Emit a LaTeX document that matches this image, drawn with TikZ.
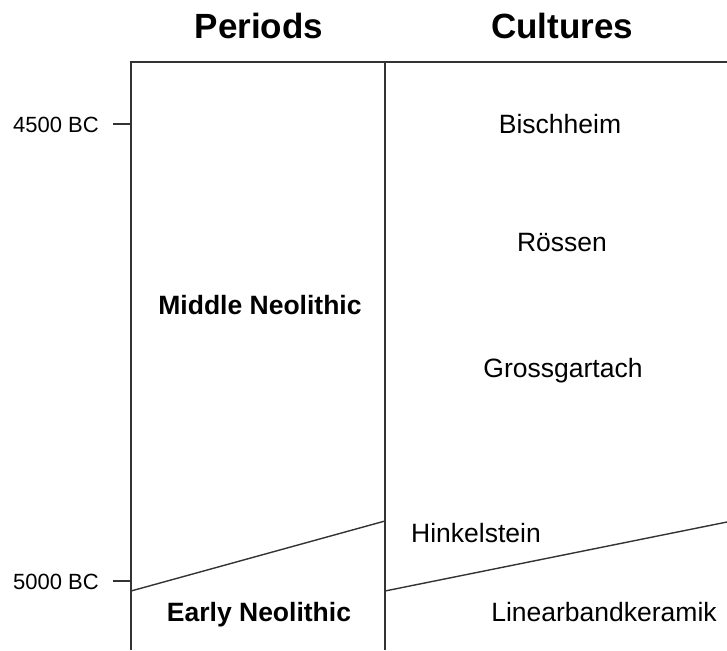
\documentclass[tikz,border=0pt]{standalone}
\usepackage{fontspec}
\setmainfont{Liberation Sans}
\definecolor{linegray}{HTML}{333333}
\begin{document}
\begin{tikzpicture}[x=1pt,y=-1pt,
  rule/.style={draw=linegray,line width=1.4pt},
  title/.style={inner sep=0pt,anchor=base,font=\fontsize{35}{40}\selectfont\bfseries},
  period/.style={inner sep=0pt,anchor=base,font=\fontsize{26.5}{30}\selectfont\bfseries},
  culture/.style={inner sep=0pt,anchor=base,font=\fontsize{26.5}{30}\selectfont},
  year/.style={inner sep=0pt,anchor=base west,font=\fontsize{22}{26}\selectfont}]
\useasboundingbox (0,0) rectangle (727,650);
% frame coordinates
\coordinate (tl) at (131,62);
\coordinate (tm) at (385,62);
\coordinate (tr) at (727,62);
\coordinate (bl) at (131,650);
\coordinate (bm) at (385,650);
\coordinate (t45a) at (113,124);
\coordinate (t45b) at (131,124);
\coordinate (t50a) at (113,581);
\coordinate (t50b) at (131,581);
\coordinate (dl1) at (131,591);
\coordinate (dl2) at (385,521);
\coordinate (dr1) at (385,591);
\coordinate (dr2) at (727,522);
% lines
\draw[rule] (bl) -- (tl) -- (tr);
\draw[rule] (tm) -- (bm);
\draw[rule] (t45a) -- (t45b);
\draw[rule] (t50a) -- (t50b);
\draw[rule] (dl1) -- (dl2);
\draw[rule] (dr1) -- (dr2);
% titles
\node[title] (periods) at (259,39) {Periods};
\node[title] (cultures) at (562,39) {Cultures};
% years
\node[year] (y4500) at (13,132) {4500 BC};
\node[year] (y5000) at (13,589) {5000 BC};
% periods
\node[period] (mid) at (260,314) {Middle Neolithic};
\node[period] (early) at (259,621) {Early Neolithic};
% cultures
\node[culture] (bisch) at (560,133) {Bischheim};
\node[culture] (roessen) at (562,251) {Rössen};
\node[culture] (gross) at (563,377) {Grossgartach};
\node[culture,anchor=base west] (hinkel) at (411,542) {Hinkelstein};
\node[culture] (lbk) at (604,621) {Linearbandkeramik};
\end{tikzpicture}
\end{document}
